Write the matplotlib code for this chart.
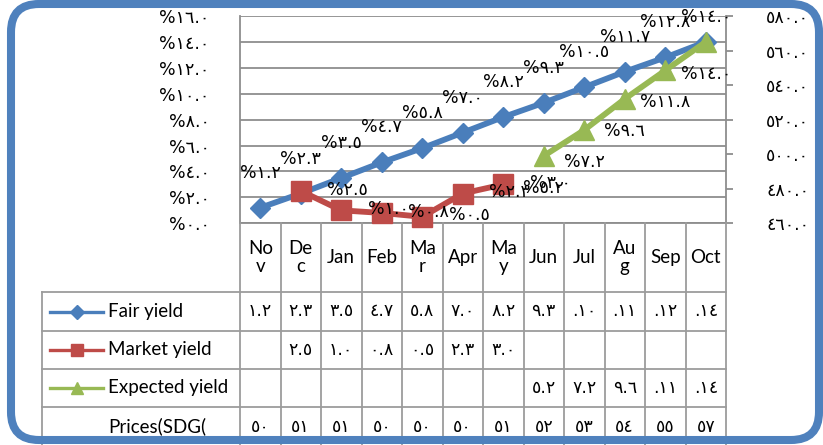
import numpy as np
import matplotlib
matplotlib.use('Agg')
import matplotlib.pyplot as plt
from matplotlib.patches import FancyBboxPatch
from matplotlib.lines import Line2D
from matplotlib.transforms import blended_transform_factory, IdentityTransform

# ---------------- data ----------------
months = ["No\nv", "De\nc", "Jan", "Feb", "Ma\nr", "Apr", "Ma\ny", "Jun", "Jul", "Au\ng", "Sep", "Oct"]
fair = [1.2, 2.3, 3.5, 4.7, 5.8, 7.0, 8.2, 9.3, 10.5, 11.7, 12.8, 14.0]
market = [None, 2.5, 1.0, 0.8, 0.5, 2.3, 3.0, None, None, None, None, None]
expected = [None, None, None, None, None, None, None, 5.2, 7.2, 9.6, 11.8, 14.0]
prices = [50, 51, 51, 50, 50, 50, 51, 52, 53, 54, 55, 57]
left_ticks = [0, 2, 4, 6, 8, 10, 12, 14, 16]
right_ticks = [460, 480, 500, 520, 540, 560, 580]
series_names = ["Fair yield", "Market yield", "Expected yield"]
price_name = "Prices(SDG("

# ---------------- style ----------------
BLUE, RED, GREEN = '#4A7EBB', '#BE4B48', '#98B954'
GRID = '#8E8E8E'
TBL = '#9C9C9C'
LAT = ['Lato', 'DejaVu Sans']
DIG = ['DejaVu Sans']
DFS = 12.5
AR = str.maketrans('0123456789', '٠١٢٣٤٥٦٧٨٩')


def ar(s):
    return s.translate(AR)


def tbl_fmt(v):
    if v is None:
        return ''
    if v >= 10:
        return '.' + ar(str(int(v)))
    return ar(f"{v:.1f}")


def arr(vals):
    return np.array([np.nan if v is None else v for v in vals], dtype=float)


W, H = 823, 445
fig = plt.figure(figsize=(W / 100, H / 100), dpi=100)


def fx(px):
    return px / W


def fy(py):
    return 1 - py / H


AX_L, AX_R, AX_T, AX_B = 240, 726, 16, 223.3
ax = fig.add_axes([fx(AX_L), fy(AX_B), (AX_R - AX_L) / W, (AX_B - AX_T) / H])
x = np.arange(len(months))
ax.set_xlim(-0.5, len(months) - 0.5)
ax.set_ylim(left_ticks[0], left_ticks[-1])
ax.set_xticks([])
ax.set_yticks(left_ticks)
ax.set_yticklabels(['%' + ar(f"{t:.1f}") for t in left_ticks], family=DIG, fontsize=DFS)
ax.tick_params(axis='y', length=0, pad=22)
ax.grid(axis='y', color=GRID, lw=1.3)
ax.set_axisbelow(True)
for s in ax.spines.values():
    s.set_color(GRID)
    s.set_linewidth(1.3)
ax.spines['top'].set_visible(False)

ax2 = ax.twinx()
ax2.set_ylim(right_ticks[0], right_ticks[-1])
ax2.set_yticks(right_ticks)
ax2.set_yticklabels([ar(f"{t:.1f}") for t in right_ticks], family=DIG, fontsize=DFS)
ax2.tick_params(axis='y', length=5, width=1.3, color=GRID, pad=24)
for s in ax2.spines.values():
    s.set_visible(False)
ax2.set_zorder(0)
ax.set_zorder(1)
ax.patch.set_visible(False)

f_arr, m_arr, e_arr = arr(fair), arr(market), arr(expected)
ax.plot(x, f_arr, color=BLUE, lw=4.2, marker='D', ms=10.5, zorder=3, clip_on=False)
ax.plot(x, m_arr, color=RED, lw=4.2, marker='s', ms=14, zorder=3, clip_on=False)
ax.plot(x, e_arr, color=GREEN, lw=4.2, marker='^', ms=15, zorder=3, clip_on=False)

lab_kw = dict(family=DIG, fontsize=DFS, annotation_clip=False, zorder=5)
# "above" labels of the fair series, kept inside the chart area (as Excel does)
FAIR_OFF = 2.7   # in y units (~35 px)
for i, v in enumerate(fair):
    ax.annotate('%' + ar(f"{v:.1f}"), (i, v), xytext=(i, min(v + FAIR_OFF, 15.9)), textcoords='data',
                ha='center', va='center', **lab_kw)
for i, v in enumerate(market):
    if v is not None:
        ax.annotate('%' + ar(f"{v:.1f}"), (i, v), xytext=(19, 1), textcoords='offset points',
                    ha='left', va='center', **lab_kw)
for i, v in enumerate(expected):
    if v is not None:
        ax.annotate('%' + ar(f"{v:.1f}"), (i, v), xytext=(0, -23), textcoords='offset points',
                    ha='center', va='center', **lab_kw)

# ---------------- data table ----------------
tb = blended_transform_factory(ax.transData, fig.transFigure)
HDR_B = 292
rows_y = [292, 331, 369, 407, 446]
LBL_L = 42
n = len(months)
for i in range(n + 1):
    fig.add_artist(Line2D([i - 0.5, i - 0.5], [fy(AX_B), fy(H + 2)], transform=tb, color=TBL, lw=1.3))
fig.add_artist(Line2D([fx(LBL_L), fx(LBL_L)], [fy(HDR_B), fy(H + 2)], transform=fig.transFigure, color=TBL, lw=1.3))
for ry in rows_y[:-1]:
    fig.add_artist(Line2D([fx(LBL_L), fx(AX_R)], [fy(ry), fy(ry)], transform=fig.transFigure, color=TBL, lw=1.3))

for i, m in enumerate(months):
    fig.text(i, fy((AX_B + HDR_B) / 2), m, transform=tb, ha='center', va='center',
             family=LAT, fontsize=13.5, linespacing=1.1, multialignment='center')

row_vals = [[tbl_fmt(v) for v in fair], [tbl_fmt(v) for v in market],
            [tbl_fmt(v) for v in expected], [ar(str(p)) for p in prices]]
for r, vals in enumerate(row_vals):
    cy = fy((rows_y[r] + rows_y[r + 1]) / 2)
    for i, t in enumerate(vals):
        if t:
            fig.text(i, cy, t, transform=tb, ha='center', va='center', family=DIG, fontsize=DFS)

styles = [(BLUE, 'D', 7), (RED, 's', 9), (GREEN, '^', 9)]
names = series_names + [price_name]
for r, name in enumerate(names):
    cy = fy((rows_y[r] + rows_y[r + 1]) / 2)
    if r < 3:
        c, mk, ms = styles[r]
        fig.add_artist(Line2D([fx(50), fx(76.5), fx(103)], [cy, cy, cy], transform=fig.transFigure,
                              color=c, lw=2.4, marker=mk, ms=ms, markevery=[1], zorder=4))
    fig.text(fx(108), cy, name, ha='left', va='center', family=LAT, fontsize=13.5)

# ---------------- rounded frame (pixel coordinates) ----------------
FL, FR, FT, FB = 11, 819, 4, 440
frame = FancyBboxPatch((FL, H - FB), FR - FL, FB - FT,
                       boxstyle='round,pad=0,rounding_size=28', transform=IdentityTransform(),
                       fill=False, edgecolor='#4F81BD', lw=5.8, zorder=10)
fig.add_artist(frame)

fig.savefig('out.png', dpi=100)
